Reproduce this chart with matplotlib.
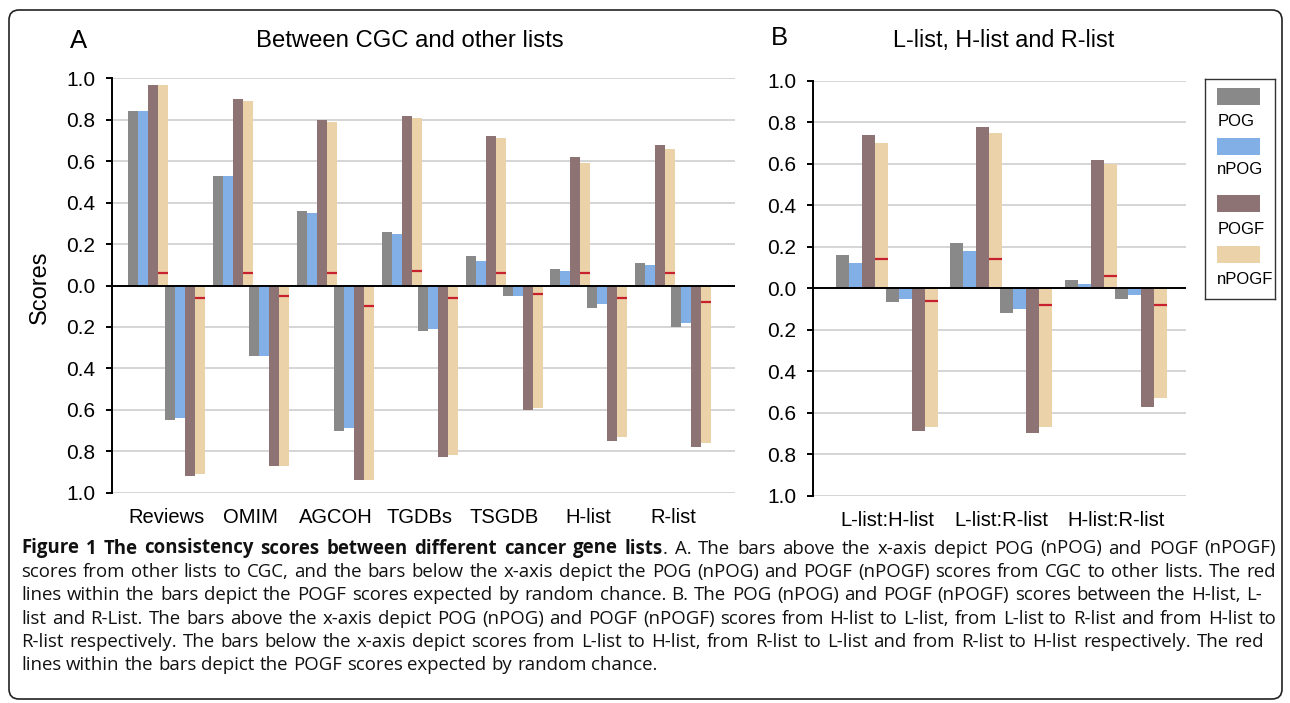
import matplotlib
matplotlib.use('Agg')
import matplotlib.pyplot as plt
from matplotlib.patches import FancyBboxPatch, Rectangle
from matplotlib.transforms import IdentityTransform
from matplotlib.font_manager import FontProperties
import numpy as np

plt.rcParams['font.family'] = ['Liberation Sans', 'DejaVu Sans']

# ---------------- data ----------------
series = ["POG", "nPOG", "POGF", "nPOGF"]
colors = ["#898989", "#82b0e6", "#8d7373", "#ebd2a8"]
red = "#c8202f"

tick_vals = [1.0, 0.8, 0.6, 0.4, 0.2, 0.0, -0.2, -0.4, -0.6, -0.8, -1.0]
tick_labels = ["1.0", "0.8", "0.6", "0.4", "0.2", "0.0", "0.2", "0.4", "0.6", "0.8", "1.0"]

cats_a = ["Reviews", "OMIM", "AGCOH", "TGDBs", "TSGDB", "H-list", "R-list"]
a_up_pog = [0.84, 0.53, 0.36, 0.26, 0.14, 0.08, 0.11]
a_up_npog = [0.84, 0.53, 0.35, 0.25, 0.12, 0.07, 0.10]
a_up_pogf = [0.97, 0.90, 0.80, 0.82, 0.72, 0.62, 0.68]
a_up_npogf = [0.97, 0.89, 0.79, 0.81, 0.71, 0.59, 0.66]
a_up_rand = [0.06, 0.06, 0.06, 0.07, 0.06, 0.06, 0.06]
a_dn_pog = [0.65, 0.34, 0.70, 0.22, 0.05, 0.11, 0.20]
a_dn_npog = [0.64, 0.34, 0.69, 0.21, 0.05, 0.09, 0.18]
a_dn_pogf = [0.92, 0.87, 0.94, 0.83, 0.60, 0.75, 0.78]
a_dn_npogf = [0.91, 0.87, 0.94, 0.82, 0.59, 0.73, 0.76]
a_dn_rand = [0.06, 0.05, 0.10, 0.06, 0.04, 0.06, 0.08]

cats_b = ["L-list:H-list", "L-list:R-list", "H-list:R-list"]
b_up_pog = [0.16, 0.22, 0.04]
b_up_npog = [0.12, 0.18, 0.02]
b_up_pogf = [0.74, 0.78, 0.62]
b_up_npogf = [0.70, 0.75, 0.60]
b_up_rand = [0.14, 0.14, 0.06]
b_dn_pog = [0.065, 0.12, 0.05]
b_dn_npog = [0.05, 0.10, 0.03]
b_dn_pogf = [0.69, 0.70, 0.57]
b_dn_npogf = [0.67, 0.67, 0.53]
b_dn_rand = [0.06, 0.08, 0.08]

title_a = "Between CGC and other lists"
title_b = "L-list, H-list and R-list"
ylabel = "Scores"

caption_bold = "Figure 1 The consistency scores between different cancer gene lists"
caption_lines = [
    ". A. The bars above the x-axis depict POG (nPOG) and POGF (nPOGF)",
    "scores from other lists to CGC, and the bars below the x-axis depict the POG (nPOG) and POGF (nPOGF) scores from CGC to other lists. The red",
    "lines within the bars depict the POGF scores expected by random chance. B. The POG (nPOG) and POGF (nPOGF) scores between the H-list, L-",
    "list and R-List. The bars above the x-axis depict POG (nPOG) and POGF (nPOGF) scores from H-list to L-list, from L-list to R-list and from H-list to",
    "R-list respectively. The bars below the x-axis depict scores from L-list to H-list, from R-list to L-list and from R-list to H-list respectively. The red",
    "lines within the bars depict the POGF scores expected by random chance.",
]

# ---------------- figure ----------------
W, H = 1290, 703
fig = plt.figure(figsize=(W / 100, H / 100), dpi=100)


def px_axes(l, t, r, b):
    return fig.add_axes([l / W, 1 - b / H, (r - l) / W, (b - t) / H])


def draw_panel(ax, cats, up, dn, up_rand, dn_rand, width, up_off, dn_off, xlim):
    x = np.arange(len(cats))
    for k, (vals, col) in enumerate(zip(up, colors)):
        ax.bar(x + up_off + k * width, vals, width=width, align='edge',
               color=col, linewidth=0, zorder=2)
    for k, (vals, col) in enumerate(zip(dn, colors)):
        ax.bar(x + dn_off + k * width, -np.asarray(vals), width=width,
               align='edge', color=col, linewidth=0, zorder=2)
    ax.hlines(up_rand, x + up_off + 3 * width, x + up_off + 4 * width,
              color=red, lw=1.6, zorder=3)
    ax.hlines(-np.asarray(dn_rand), x + dn_off + 3 * width, x + dn_off + 4 * width,
              color=red, lw=1.6, zorder=3)
    ax.axhline(0, color='black', lw=1.4, zorder=4)
    ax.set_ylim(-1, 1)
    ax.set_xlim(*xlim)
    ax.set_yticks(tick_vals)
    ax.set_yticklabels(tick_labels)
    ax.yaxis.grid(True, color='#d2d2d2', lw=1.3)
    ax.set_axisbelow(True)
    for s in ['top', 'right', 'bottom']:
        ax.spines[s].set_visible(False)
    ax.spines['left'].set_linewidth(1.4)
    ax.tick_params(axis='y', direction='out', length=4, width=1.4, pad=8,
                   labelsize=15, colors='black')
    ax.set_xticks(x)
    ax.set_xticklabels(cats, fontsize=14.5)
    ax.tick_params(axis='x', length=0, pad=11)


axA = px_axes(112, 78.3, 735, 492.7)
draw_panel(axA, cats_a,
           [a_up_pog, a_up_npog, a_up_pogf, a_up_npogf],
           [a_dn_pog, a_dn_npog, a_dn_pogf, a_dn_npogf],
           a_up_rand, a_dn_rand, 0.1185, -0.453, -0.018, (-0.646, 6.735))

axB = px_axes(812.7, 81, 1185.7, 495.7)
draw_panel(axB, cats_b,
           [b_up_pog, b_up_npog, b_up_pogf, b_up_npogf],
           [b_dn_pog, b_dn_npog, b_dn_pogf, b_dn_npogf],
           b_up_rand, b_dn_rand, 0.1136, -0.447, -0.009, (-0.65, 2.61))

# legend box
axL = px_axes(1205, 79, 1275, 299)
axL.set_xlim(0, 70)
axL.set_ylim(220, 0)
axL.set_xticks([])
axL.set_yticks([])
for s in axL.spines.values():
    s.set_linewidth(1.0)
    s.set_color('#333333')
leg_patch_y = [9.3, 59, 116, 167]
leg_text_y = [43, 91, 151, 200]
leg_text_x = [31, 35, 36, 40]
for name, col, py, ty, tx in zip(series, colors, leg_patch_y, leg_text_y, leg_text_x):
    axL.add_patch(Rectangle((12, py), 42.5, 16.5, color=col, lw=0))
    axL.text(tx, ty, name, ha='center', va='center', fontsize=12)

# panel titles and labels
def ftext(x, y, s, **kw):
    fig.text(x / W, 1 - y / H, s, **kw)

ftext(79, 41, "A", fontsize=18.5, ha='center', va='center')
ftext(410, 41, title_a, fontsize=17.2, ha='center', va='center')
ftext(779, 38, "B", fontsize=18.5, ha='center', va='center')
ftext(1004, 41, title_b, fontsize=16.8, ha='center', va='center')
ftext(40, 287, ylabel, fontsize=17, ha='center', va='center', rotation=90)

# border
border = FancyBboxPatch((9, 4), 1273, 689, boxstyle="round,pad=0,rounding_size=10",
                        transform=IdentityTransform(), fill=False,
                        edgecolor='#222222', lw=1.2)
fig.patches.append(border)

# caption with justification
cap_family = ['Open Sans', 'DejaVu Sans']
cap_size = 13.4
renderer = fig.canvas.get_renderer()
fp_reg = FontProperties(family=cap_family, size=cap_size)
fp_bold = FontProperties(family=cap_family, size=cap_size, weight='bold')


def run_w(s, fp):
    w, h, d = renderer.get_text_width_height_descent(s, fp, ismath=False)
    return w


def tokens_of(line, weight):
    return [[(w, weight)] for w in line.split(' ')]


line1 = tokens_of(caption_bold, 'bold')
rest = caption_lines[0].split(' ')
line1[-1].append((rest[0], 'normal'))
line1 += [[(w, 'normal')] for w in rest[1:]]
all_lines = [line1] + [tokens_of(l, 'normal') for l in caption_lines[1:]]

x0 = 21
right_ends = [1276, 1276, 1262, 1276, 1264, None]
centers = [548 + 23.4 * i for i in range(6)]
space_w = run_w('a b', fp_reg) - run_w('ab', fp_reg)
for words, xr, yc in zip(all_lines, right_ends, centers):
    widths = []
    for wd in words:
        widths.append(sum(run_w(s, fp_bold if wt == 'bold' else fp_reg) for s, wt in wd))
    if xr is None:
        gap = space_w
        fs_scale = 1.0
    else:
        gap = (xr - x0 - sum(widths)) / (len(words) - 1)
        gap = max(gap, 0.6 * space_w)
    x = x0
    yb = yc + 5.5
    for wd, ww in zip(words, widths):
        xx = x
        for s, wt in wd:
            fp = fp_bold if wt == 'bold' else fp_reg
            fig.text(xx / W, 1 - yb / H, s, fontproperties=fp,
                     ha='left', va='baseline', color='#111111')
            xx += run_w(s, fp)
        x += ww + gap

fig.savefig('out.png', dpi=100)
